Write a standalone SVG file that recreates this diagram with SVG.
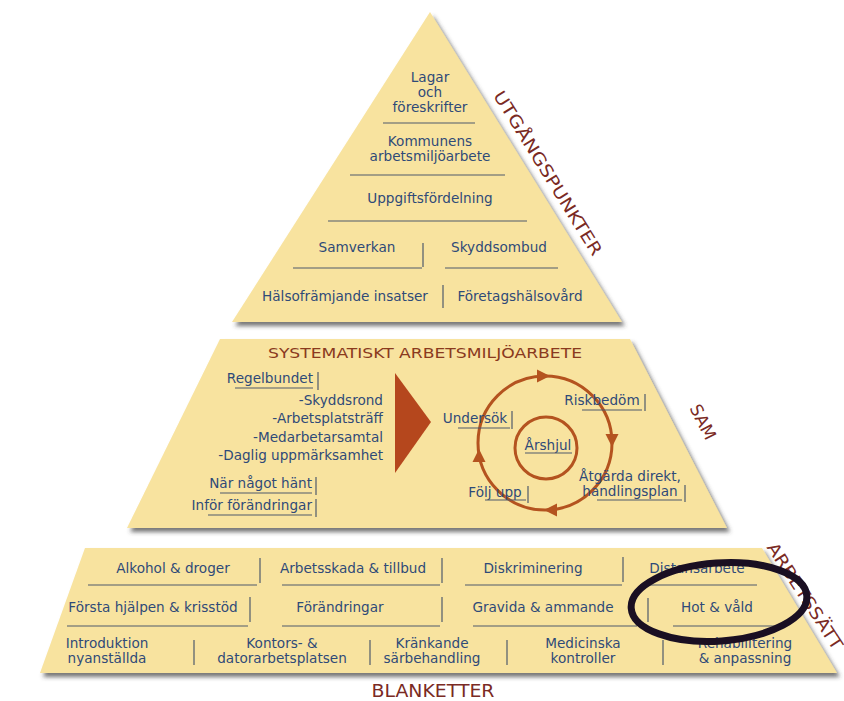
<svg xmlns="http://www.w3.org/2000/svg" width="844" height="701" viewBox="0 0 844 701">
<style>
.tier{fill:#F8E39F;filter:url(#sh)}
.t{font-family:"DejaVu Sans",Verdana,sans-serif;font-size:13.6px;fill:#2F4A78;text-anchor:middle}
.r{text-anchor:end}
.ln{stroke:#4F5A6C;stroke-width:1.2;fill:none}
.side{font-family:"DejaVu Sans",Verdana,sans-serif;font-size:17px;fill:#7A2A24;text-anchor:middle}
.title{font-family:"DejaVu Sans",Verdana,sans-serif;font-size:14px;fill:#8A3A1E;text-anchor:middle}
.cyc{stroke:#B4531F;stroke-width:3;fill:none}
</style>
<defs>
<filter id="sh" x="-5%" y="-5%" width="115%" height="120%">
<feDropShadow dx="3" dy="4" stdDeviation="2" flood-color="#3A3A3A" flood-opacity="0.7"/>
</filter>
<path id="ah" d="M7,0 L-6,-6.5 L-6,6.5 Z" fill="#B4531F"/>
</defs>
<rect width="844" height="701" fill="#FFFFFF"/>

<g id="utgangspunkter">
<polygon class="tier" points="430,12 232,322 622,322"/>
<text class="t" x="430" y="82">Lagar</text>
<text class="t" x="430" y="97">och</text>
<text class="t" x="430" y="112">föreskrifter</text>
<line class="ln" x1="383" y1="123" x2="475" y2="123"/>
<text class="t" x="430" y="146">Kommunens</text>
<text class="t" x="430" y="161">arbetsmiljöarbete</text>
<line class="ln" x1="350" y1="175" x2="505" y2="175"/>
<text class="t" x="430" y="203">Uppgiftsfördelning</text>
<line class="ln" x1="328" y1="221" x2="527" y2="221"/>
<text class="t" x="357" y="252">Samverkan</text>
<line class="ln" x1="423" y1="243" x2="423" y2="267"/>
<text class="t" x="499" y="252">Skyddsombud</text>
<line class="ln" x1="293" y1="268" x2="422" y2="268"/>
<line class="ln" x1="445" y1="268" x2="558" y2="268"/>
<text class="t" x="345" y="301">Hälsofrämjande insatser</text>
<line class="ln" x1="443" y1="285" x2="443" y2="308"/>
<text class="t" x="520" y="301">Företagshälsovård</text>
<text class="side" transform="translate(548,173) rotate(58.2)" y="6" textLength="190" lengthAdjust="spacingAndGlyphs">UTGÅNGSPUNKTER</text>
</g>

<g id="sam">
<polygon class="tier" points="220,339 630,339 727,528 127,528"/>
<text class="title" x="425" y="358" textLength="314" lengthAdjust="spacingAndGlyphs">SYSTEMATISKT ARBETSMILJÖARBETE</text>
<text class="t r" x="313" y="383">Regelbundet</text>
<line class="ln" x1="318" y1="372" x2="318" y2="390"/>
<line class="ln" x1="235" y1="388" x2="313" y2="388"/>
<text class="t r" x="383" y="405">-Skyddsrond</text>
<text class="t r" x="383" y="423">-Arbetsplatsträff</text>
<text class="t r" x="383" y="442">-Medarbetarsamtal</text>
<text class="t r" x="383" y="460">-Daglig uppmärksamhet</text>
<text class="t r" x="312" y="488">När något hänt</text>
<line class="ln" x1="316" y1="477" x2="316" y2="495"/>
<line class="ln" x1="220" y1="493" x2="312" y2="493"/>
<text class="t r" x="312" y="510">Inför förändringar</text>
<line class="ln" x1="316" y1="499" x2="316" y2="517"/>
<line class="ln" x1="208" y1="515" x2="312" y2="515"/>
<polygon points="395,373 431,422 395,473" fill="#B5471D"/>
<text class="side" transform="translate(703,422) rotate(63)" y="6">SAM</text>
</g>

<g id="arshjul">
<circle class="cyc" cx="545" cy="443" r="67"/>
<circle class="cyc" cx="546" cy="448" r="31"/>
<text class="t" x="548" y="450">Årshjul</text>
<line class="ln" x1="525" y1="453" x2="572" y2="453"/>
<text class="t" x="602" y="405">Riskbedöm</text>
<line class="ln" x1="645" y1="394" x2="645" y2="411"/>
<line class="ln" x1="582" y1="410" x2="642" y2="410"/>
<text class="t" x="475" y="423">Undersök</text>
<line class="ln" x1="512" y1="411" x2="512" y2="429"/>
<line class="ln" x1="458" y1="428" x2="510" y2="428"/>
<text class="t" x="630" y="481">Åtgärda direkt,</text>
<text class="t" x="630" y="496">handlingsplan</text>
<line class="ln" x1="685" y1="485" x2="685" y2="502"/>
<line class="ln" x1="597" y1="500" x2="682" y2="500"/>
<text class="t" x="495" y="497">Följ upp</text>
<line class="ln" x1="528" y1="486" x2="528" y2="503"/>
<line class="ln" x1="485" y1="500" x2="526" y2="500"/>
</g>

<g id="connectors">
<use href="#ah" transform="translate(543,376)"/>
<use href="#ah" transform="translate(612,440) rotate(90)"/>
<use href="#ah" transform="translate(551,510) rotate(180)"/>
<use href="#ah" transform="translate(479,456) rotate(-90)"/>
</g>

<g id="arbetssatt">
<polygon class="tier" points="85,548 762,548 837,673 40,673"/>
<text class="t" x="173" y="573">Alkohol &amp; droger</text>
<line class="ln" x1="260" y1="558" x2="260" y2="583"/>
<text class="t" x="353" y="573">Arbetsskada &amp; tillbud</text>
<line class="ln" x1="442" y1="558" x2="442" y2="583"/>
<text class="t" x="533" y="573">Diskriminering</text>
<line class="ln" x1="623" y1="557" x2="623" y2="582"/>
<text class="t" x="697" y="573">Distansarbete</text>
<line class="ln" x1="88" y1="585" x2="257" y2="585"/>
<line class="ln" x1="282" y1="585" x2="440" y2="585"/>
<line class="ln" x1="465" y1="585" x2="622" y2="585"/>
<line class="ln" x1="640" y1="585" x2="757" y2="585"/>

<text class="t" x="153" y="612">Första hjälpen &amp; krisstöd</text>
<line class="ln" x1="250" y1="597" x2="250" y2="622"/>
<text class="t" x="340" y="612">Förändringar</text>
<line class="ln" x1="442" y1="597" x2="442" y2="622"/>
<text class="t" x="543" y="612">Gravida &amp; ammande</text>
<line class="ln" x1="648" y1="598" x2="648" y2="622"/>
<text class="t" x="717" y="612">Hot &amp; våld</text>
<line class="ln" x1="67" y1="626" x2="248" y2="626"/>
<line class="ln" x1="282" y1="626" x2="440" y2="626"/>
<line class="ln" x1="473" y1="626" x2="637" y2="626"/>
<line class="ln" x1="673" y1="626" x2="783" y2="626"/>

<text class="t" x="107" y="648">Introduktion</text>
<text class="t" x="107" y="663">nyanställda</text>
<line class="ln" x1="194" y1="640" x2="194" y2="665"/>
<text class="t" x="282" y="648">Kontors- &amp;</text>
<text class="t" x="282" y="663">datorarbetsplatsen</text>
<line class="ln" x1="370" y1="640" x2="370" y2="665"/>
<text class="t" x="432" y="648">Kränkande</text>
<text class="t" x="432" y="663">särbehandling</text>
<line class="ln" x1="507" y1="640" x2="507" y2="665"/>
<text class="t" x="583" y="648">Medicinska</text>
<text class="t" x="583" y="663">kontroller</text>
<line class="ln" x1="663" y1="640" x2="663" y2="665"/>
<text class="t" x="745" y="648">Rehabilitering</text>
<text class="t" x="745" y="663">&amp; anpassning</text>
<text class="side" transform="translate(805,596) rotate(57)" y="6" textLength="124" lengthAdjust="spacingAndGlyphs">ARBETSSÄTT</text>
</g>

<g id="blanketter">
<text class="side" x="433" y="697" textLength="123" lengthAdjust="spacingAndGlyphs">BLANKETTER</text>
</g>

<g id="highlight">
<ellipse cx="719" cy="602" rx="88" ry="39" transform="rotate(-4 719 602)" fill="none" stroke="#1A0F22" stroke-width="7"/>
</g>
</svg>
